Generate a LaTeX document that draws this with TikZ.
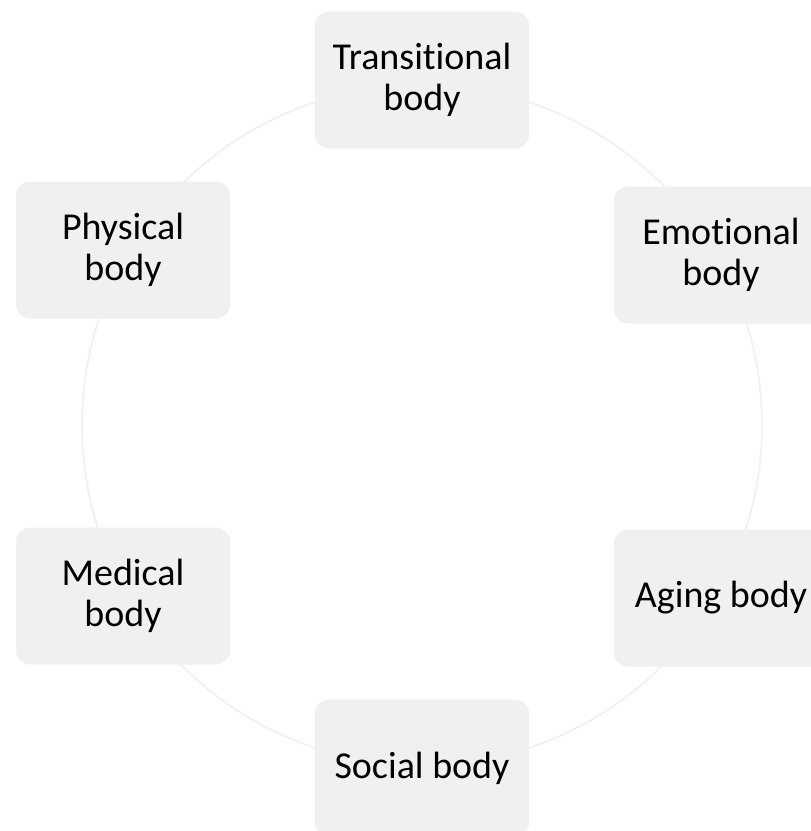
\documentclass[tikz,border=0pt]{standalone}
\usepackage{fontspec}
\setmainfont{Carlito}[Ligatures=NoCommon]
\begin{document}
\begin{tikzpicture}[x=1pt,y=-1pt,
  bodybox/.style={fill=black!6, draw=none, rounded corners=14pt,
    minimum width=214pt, minimum height=137pt, align=center,
    font=\fontsize{38}{41}\selectfont, inner sep=0pt},
  ring/.style={draw=black!5, line width=2pt}]
\useasboundingbox (0,0) rectangle (811,831);
\clip (0,0) rectangle (811,831);
\coordinate (c) at (422,425);
\draw[ring] (c) circle[radius=340];
\node[bodybox] (t) at (422,80) {Transitional\\body};
\node[bodybox] (e) at (721,255) {Emotional\\body};
\node[bodybox] (a) at (721,598) {Aging body};
\node[bodybox] (s) at (422,768) {Social body};
\node[bodybox] (m) at (123,596) {Medical\\body};
\node[bodybox] (p) at (123,250) {Physical\\body};
\end{tikzpicture}
\end{document}
